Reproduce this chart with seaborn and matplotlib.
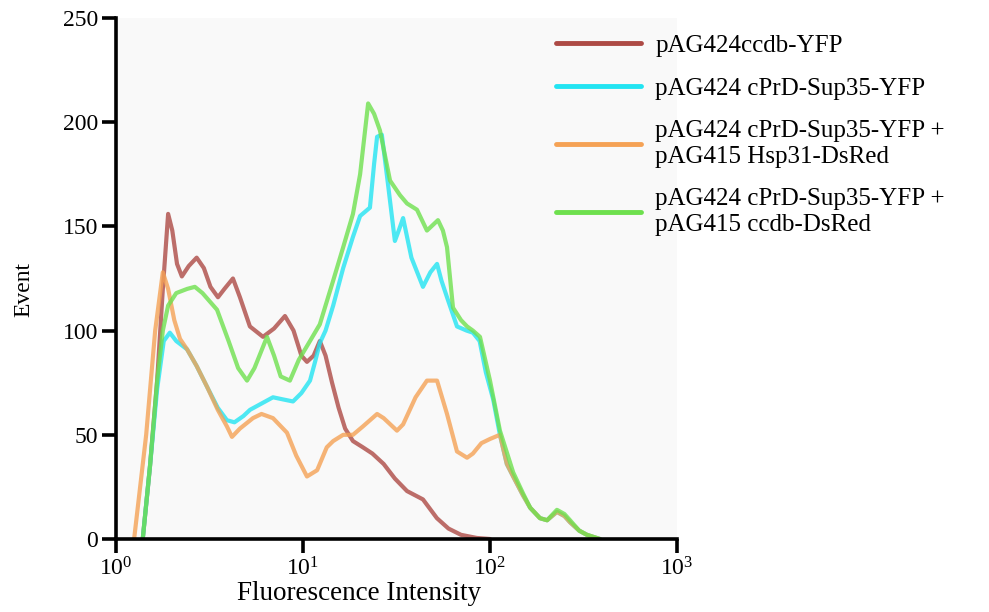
import numpy as np
import pandas as pd
import matplotlib
matplotlib.use("Agg")
import matplotlib.pyplot as plt
import seaborn as sns

# ---------------- data ----------------
labels = [
    "pAG424ccdb-YFP",
    "pAG424 cPrD-Sup35-YFP",
    "pAG424 cPrD-Sup35-YFP +\npAG415 Hsp31-DsRed",
    "pAG424 cPrD-Sup35-YFP +\npAG415 ccdb-DsRed",
]

red_x = [1.39, 1.52, 1.66, 1.78, 1.90, 2.0, 2.12, 2.25, 2.45, 2.70, 2.95, 3.2, 3.51, 3.8,
         4.22, 4.6, 5.2, 6.11, 7.0, 8.01, 8.9, 9.8, 10.5, 11.4, 12.3, 13.2, 14.3, 15.5,
         16.8, 18.5, 20.9, 23.5, 27, 31, 36, 43.8, 52, 60, 70, 85, 100]
red_y = [0, 35, 76, 120, 156, 148, 132, 126, 131, 135, 130, 121, 116, 120,
         125, 116, 102, 97, 101, 107, 100, 88, 85, 88, 95, 88, 75, 63,
         53, 47, 44, 41, 36, 29, 23, 19, 10, 5, 2, 0.5, 0]

cyan_x = [1.39, 1.52, 1.66, 1.80, 1.94, 2.1, 2.4, 2.7, 3.07, 3.5, 3.92, 4.3, 4.8, 5.21,
          6.0, 6.91, 7.8, 8.84, 9.8, 10.9, 11.6, 12.3, 13.2, 14.5, 16.4, 18.5, 20.2,
          22.8, 24.0, 24.9, 26.4, 28.5, 31.0, 32.5, 34.3, 38, 43.8, 48, 52.1, 55, 58.9,
          66.6, 75, 81, 88, 95, 104, 113, 123, 133, 150, 164, 185, 202, 228, 250, 268,
          300, 330, 387]
cyan_y = [0, 35, 72, 95, 99, 95, 91, 83, 73, 63, 57, 56, 59, 62,
          65, 68, 67, 66, 70, 76, 85, 94, 100, 112, 130, 145, 155,
          159, 180, 193, 194, 170, 143, 148, 154, 135, 121, 128, 132, 124, 116,
          102, 100, 99, 95, 80, 67, 50, 36, 30, 21, 15, 10, 9, 13, 11, 8,
          4, 2, 0]

orange_x = [1.25, 1.45, 1.62, 1.78, 1.9, 2.05, 2.2, 2.4, 2.7, 3.07, 3.5, 3.92, 4.17, 4.6,
            5.4, 6.0, 6.91, 8.21, 9.2, 10.5, 11.9, 13.4, 14.5, 16.4, 18.5, 20.9, 24.9,
            27, 31.8, 34.3, 40, 46, 52.1, 58.9, 66.6, 75.4, 81, 90, 100, 113, 123, 133,
            150, 164, 185, 202, 228, 250, 268, 300, 330, 387]
orange_y = [0, 50, 100, 128, 120, 105, 96, 91, 83, 73, 62, 54, 49, 53,
            58, 60, 58, 51, 40, 30, 33, 44, 47, 50, 50, 54, 60,
            58, 52, 55, 68, 76, 76, 60, 42, 39, 41, 46, 48, 50, 36, 30,
            21, 15, 10, 9, 13, 11, 8, 4, 2, 0]

green_x = [1.39, 1.52, 1.66, 1.78, 1.90, 2.1, 2.4, 2.64, 2.9, 3.47, 4.0, 4.5, 5.02, 5.5,
           6.42, 7.0, 7.6, 8.51, 9.5, 10.9, 12.3, 14.5, 16.4, 18.5, 20.2, 22.3, 24,
           25.8, 29.2, 33, 36, 40.7, 46, 52.7, 56, 58.9, 63.4, 70, 75.4, 81, 88.4, 100,
           113, 133, 150, 164, 185, 202, 228, 250, 268, 300, 330, 387]
green_y = [0, 35, 76, 100, 112, 118, 120, 121, 118, 110, 95, 82, 76, 82,
           97, 88, 78, 76, 86, 95, 103, 124, 140, 156, 175, 209, 204,
           196, 172, 165, 161, 158, 148, 153, 148, 140, 111, 105, 102, 100, 97, 76,
           52, 32, 22, 15, 10, 9, 14, 12, 9, 4, 2, 0]

colors = ["#ad4a45", "#22e4f2", "#f5a255", "#6ee04e"]
xticks = [1, 10, 100, 1000]
yticks = [0, 50, 100, 150, 200, 250]

# ---------------- build long-form table ----------------
frames = []
for lab, xs, ys in zip(labels, [red_x, cyan_x, orange_x, green_x],
                       [red_y, cyan_y, orange_y, green_y]):
    frames.append(pd.DataFrame({"x": xs, "y": ys, "series": lab}))
df = pd.concat(frames, ignore_index=True)

# ---------------- styling ----------------
sns.set_theme(style="ticks")
plt.rcParams["font.family"] = ["Liberation Serif", "DejaVu Serif"]
plt.rcParams["mathtext.fontset"] = "custom"
plt.rcParams["mathtext.rm"] = "Liberation Serif"
plt.rcParams["mathtext.it"] = "Liberation Serif:italic"
plt.rcParams["text.color"] = "black"
plt.rcParams["axes.labelcolor"] = "black"

fig = plt.figure(figsize=(9.89, 6.12), dpi=100)
ax = fig.add_axes([116 / 989, 1 - 539 / 612, (677 - 116) / 989, (539 - 18) / 612])
ax.set_facecolor("#f9f9f9")

sns.lineplot(data=df, x="x", y="y", hue="series", hue_order=labels,
             palette=dict(zip(labels, colors)), estimator=None, sort=False,
             linewidth=3.0, alpha=0.8, ax=ax, legend=True)

ax.set_xscale("log")
ax.set_xlim(1, 1000)
ax.set_ylim(0, 250)
ax.set_xticks(xticks)
ax.set_yticks(yticks)
ax.xaxis.set_minor_locator(matplotlib.ticker.NullLocator())
ax.set_xlabel("Fluorescence Intensity", fontsize=19.5)
ax.set_ylabel("Event", fontsize=17)
ax.xaxis.set_label_coords(0.433, -0.08)
ax.yaxis.set_label_coords(-0.145, 0.478)

for side in ["top", "right"]:
    ax.spines[side].set_visible(False)
for side in ["left", "bottom"]:
    ax.spines[side].set_linewidth(2.6)
    ax.spines[side].set_color("black")
ax.tick_params(axis="both", which="major", direction="out", length=10, width=2.6,
               labelsize=17, colors="black", labelcolor="black", pad=3)

leg = ax.legend(loc="upper left", bbox_to_anchor=(0.745, 1.012), frameon=False,
                fontsize=18, handlelength=3.4, handletextpad=0.55, labelspacing=0.82)
for line in leg.get_lines():
    line.set_linewidth(3.5)
    line.set_alpha(1)
for t in leg.get_texts():
    t.set_linespacing(1.2)
    t.set_color("black")

fig.savefig("out.png", dpi=100, facecolor="white")
